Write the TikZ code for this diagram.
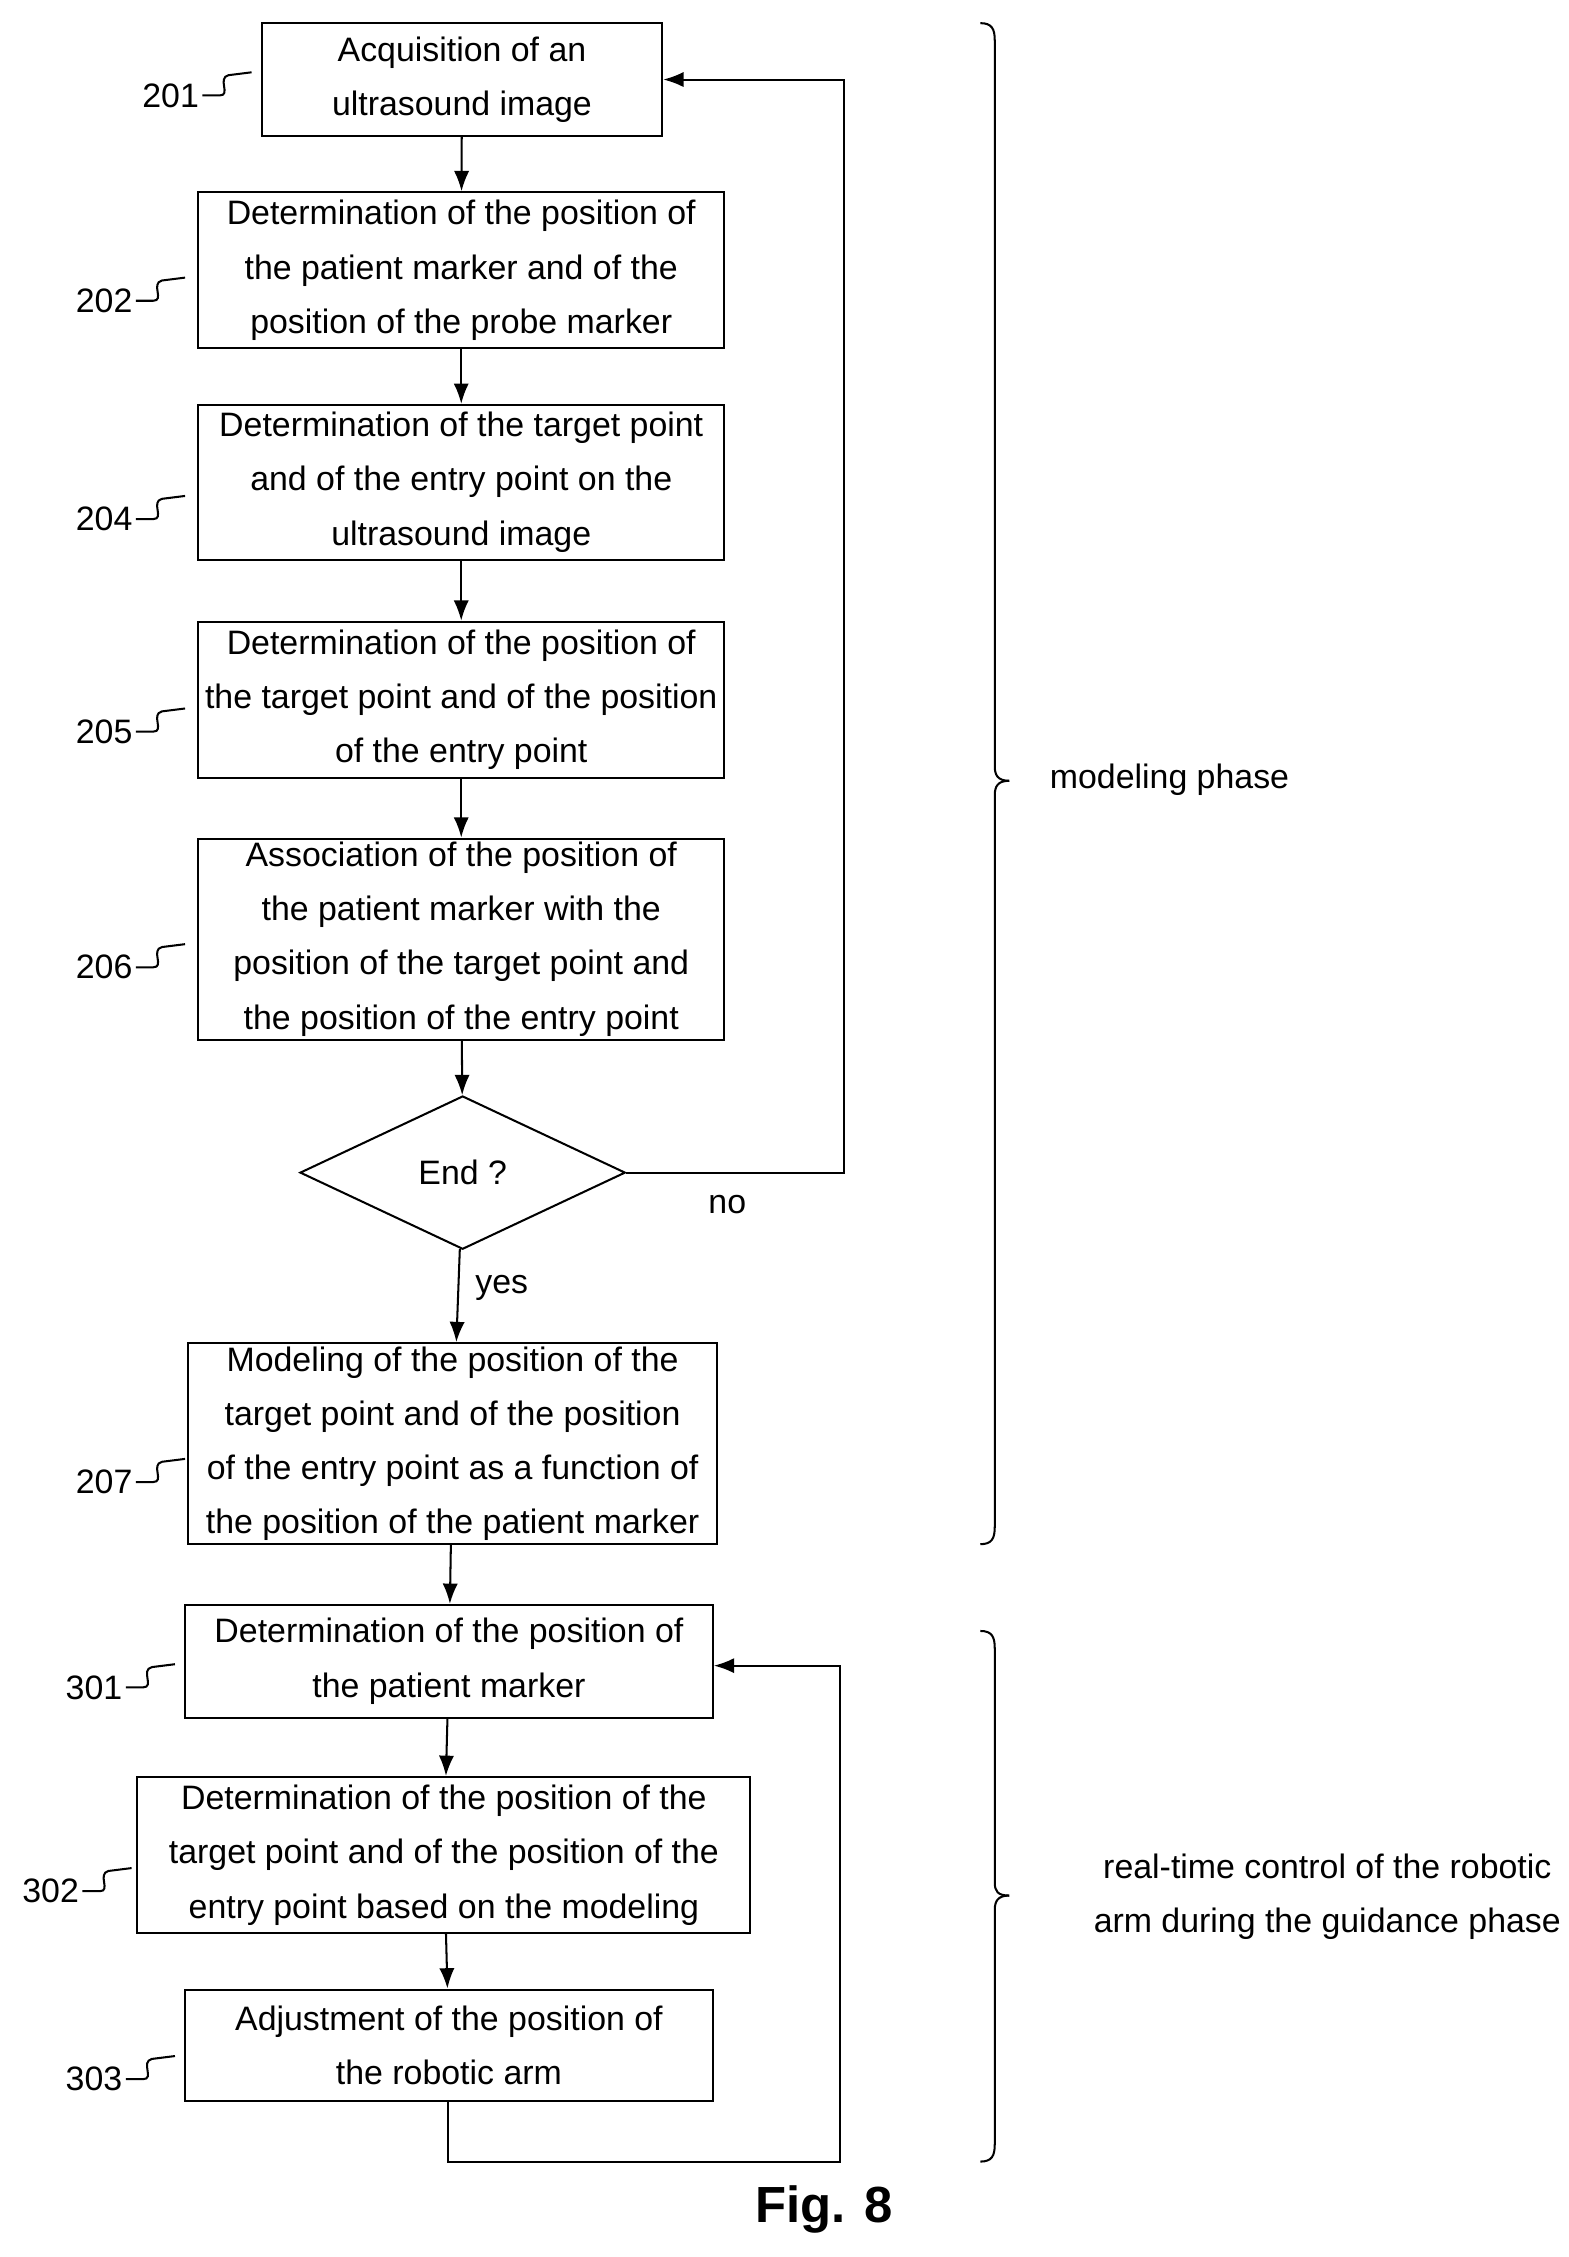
\documentclass[tikz,border=0pt]{standalone}
\usepackage{fontspec}
\setmainfont{Liberation Sans}
\usetikzlibrary{shapes.geometric,arrows.meta}
\begin{document}
\begin{tikzpicture}[x=0.03cm,y=-0.03cm,
 box/.style={draw,line width=1.2pt,align=center,font=\fontsize{20}{32}\selectfont,inner sep=0pt},
 lab/.style={font=\fontsize{20}{24}\selectfont},
 arr/.style={line width=1.2pt,-{Latex[length=12pt,width=9pt]}},
 ln/.style={line width=1.2pt}]
\useasboundingbox (0,0) rectangle (1085,1561);
\newcommand{\bx}[6]{\node[box,minimum width={(#4-#3)*0.03cm},minimum height={(#6-#5)*0.03cm}] (#1) at ({(#3+#4)/2},{(#5+#6)/2}) {#2};}
\bx{b201}{Acquisition of an\\ultrasound image}{181}{458}{16}{94}
\bx{b202}{Determination of the position of\\the patient marker and of the\\position of the probe marker}{137}{501}{133}{241}
\bx{b204}{Determination of the target point\\and of the entry point on the\\ultrasound image}{137}{501}{280}{387}
\bx{b205}{Determination of the position of\\the target point and of the position\\of the entry point}{137}{501}{430}{538}
\bx{b206}{Association of the position of\\the patient marker with the\\position of the target point and\\the position of the entry point}{137}{501}{580}{719}
\bx{b207}{Modeling of the position of the\\target point and of the position\\of the entry point as a function of\\the position of the patient marker}{130}{496}{929}{1068}
\bx{b301}{Determination of the position of\\the patient marker}{128}{493}{1110}{1188}
\bx{b302}{Determination of the position of the\\target point and of the position of the\\entry point based on the modeling}{95}{519}{1229}{1337}
\bx{b303}{Adjustment of the position of\\the robotic arm}{128}{493}{1376}{1453}
\node[draw,line width=1.2pt,diamond,aspect=2.12,minimum width=225*0.03cm,minimum height=106*0.03cm,inner sep=0pt,font=\fontsize{20}{24}\selectfont] (end) at (320,811) {End ?};
\draw[arr] (b201) -- (b202);
\draw[arr] (b202) -- (b204);
\draw[arr] (b204) -- (b205);
\draw[arr] (b205) -- (b206);
\draw[arr] (b206) -- (end);
\draw[arr] (end) -- (b207);
\draw[arr] (b207) -- (b301);
\draw[arr] (b301) -- (b302);
\draw[arr] (b302) -- (b303);
\coordinate (c1) at (584,811); \coordinate (c2) at (584,55);
\draw[arr] (end.east) -- (c1) -- (c2) -- (b201.east|-c2);
\coordinate (d1) at (310,1495); \coordinate (d2) at (581,1495); \coordinate (d3) at (581,1152);
\draw[arr] (b303.south-|d1) -- (d1) -- (d2) -- (d3) -- (b301.east|-d3);
\node[lab] (no) at (503,833) {no};
\node[lab] (yes) at (347,891) {yes};
\foreach \n/\x/\y in {201/118/66,202/72/208,204/72/359,205/72/506,206/72/669,207/72/1025,301/65/1167,302/35/1308,303/65/1438}{
 \node[lab] (l\n) at (\x,\y) {\n};
 \draw[ln] (\x+22,\y) -- (\x+34,\y) .. controls (\x+42,\y) and (\x+32,\y-12) .. (\x+40,\y-14) -- (\x+56,\y-16);
}
\draw[ln] (678,16) .. controls (686,16) and (688,20) .. (688,28) -- (688,530) .. controls (688,536) and (690,540) .. (698,540);
\draw[ln] (698,540) .. controls (690,540) and (688,544) .. (688,550) -- (688,1056) .. controls (688,1064) and (686,1068) .. (678,1068);
\node[lab,anchor=west] (m1) at (722,539) {modeling phase};
\draw[ln] (678,1128) .. controls (686,1128) and (688,1132) .. (688,1140) -- (688,1302) .. controls (688,1308) and (690,1311) .. (698,1311);
\draw[ln] (698,1311) .. controls (690,1311) and (688,1315) .. (688,1321) -- (688,1483) .. controls (688,1491) and (686,1495) .. (678,1495);
\node[lab,align=center,font=\fontsize{20}{32}\selectfont] (m2) at (918,1312) {real-time control of the robotic\\arm during the guidance phase};
\node[font=\fontsize{30}{36}\selectfont\bfseries] (fig) at (570,1528) {Fig. 8};
\end{tikzpicture}
\end{document}
